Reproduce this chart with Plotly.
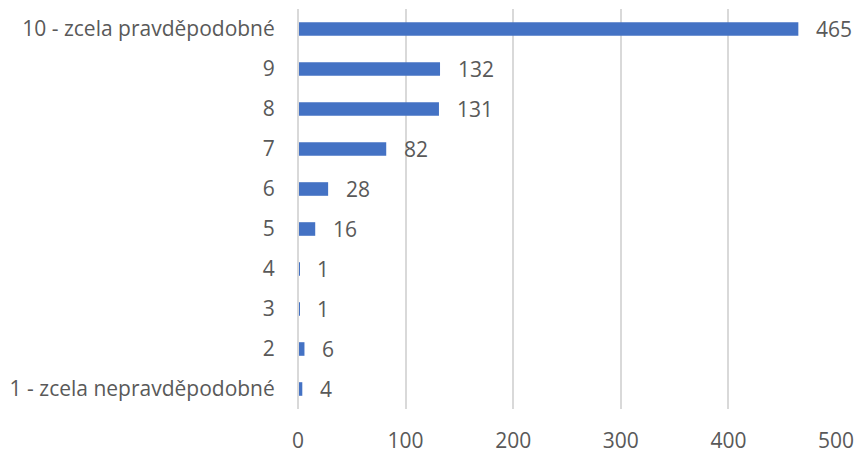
import plotly.graph_objects as go

categories = ["1 - zcela nepravděpodobné", "2", "3", "4", "5", "6", "7", "8", "9",
              "10 - zcela pravděpodobné"]
counts = [4, 6, 1, 1, 16, 28, 82, 131, 132, 465]
x_ticks = [0, 100, 200, 300, 400, 500]

FONT = "Open Sans"
TEXT = "#595959"
GRID = "#D9D9D9"
SIZE = 21

fig = go.Figure(go.Bar(
    y=list(range(len(categories))), x=counts, orientation="h",
    marker=dict(color="#4472C4", line=dict(width=0)),
    width=0.34,
))

# value labels sit just right of each bar end
for i, v in enumerate(counts):
    fig.add_annotation(x=v, y=i, text=str(v), showarrow=False,
                       xanchor="left", yanchor="middle", xshift=16,
                       font=dict(family=FONT, size=SIZE, color=TEXT))

fig.update_layout(
    width=858, height=453,
    margin=dict(l=298, r=22, t=9, b=44),
    plot_bgcolor="white", paper_bgcolor="white",
    showlegend=False,
    font=dict(family=FONT, size=SIZE, color=TEXT),
    xaxis=dict(range=[0, 500], tickvals=x_ticks, showgrid=True,
               gridcolor=GRID, gridwidth=1.5,
               zeroline=True, zerolinecolor=GRID, zerolinewidth=2,
               zerolinelayer="above traces",
               showline=False, ticks="outside", ticklen=13,
               tickcolor="rgba(0,0,0,0)", fixedrange=True, automargin=False),
    yaxis=dict(tickvals=list(range(len(categories))), ticktext=categories,
               showgrid=False, zeroline=False, showline=False,
               ticks="outside", ticklen=18, tickcolor="rgba(0,0,0,0)",
               range=[-0.5, len(categories) - 0.5], automargin=False,
               fixedrange=True),
)

fig.write_html("out.html")
